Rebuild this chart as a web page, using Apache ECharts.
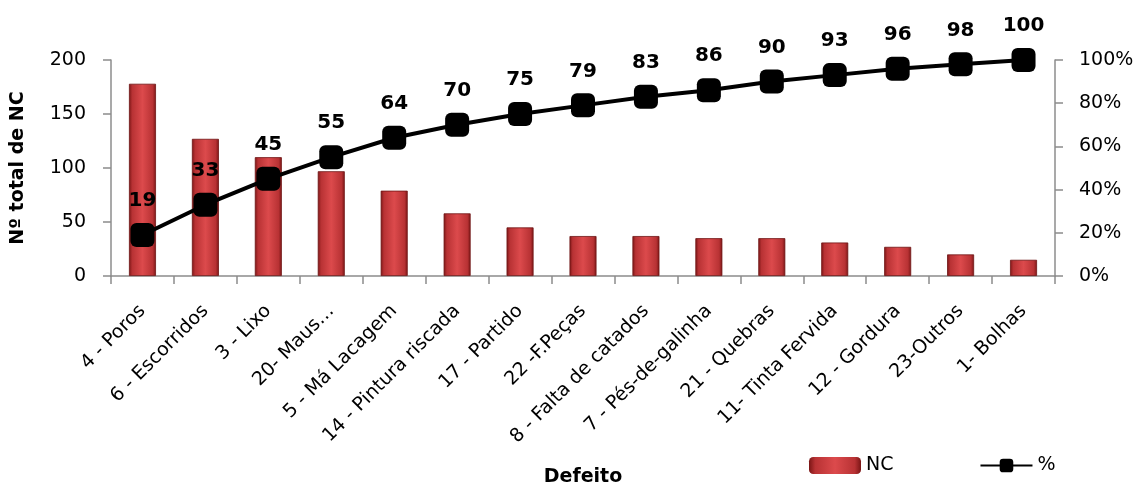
<!DOCTYPE html>
<html>
<head>
<meta charset="utf-8">
<script src="https://cdn.jsdelivr.net/npm/echarts@6/dist/echarts.min.js"></script>
<style>
  html, body { margin: 0; padding: 0; background: #fff; }
  #chart { width: 1142px; height: 488px; }
</style>
</head>
<body>
<div id="chart"></div>
<script>
// Defects (Pareto): count of non-conformities and cumulative percentage
const categories = [
  '4 - Poros', '6 - Escorridos', '3 - Lixo', '20- Maus…', '5 - Má Lacagem',
  '14 - Pintura riscada', '17 - Partido', '22 -F.Peças', '8 - Falta de catados',
  '7 - Pés-de-galinha', '21 - Quebras', '11- Tinta Fervida', '12 - Gordura',
  '23-Outros', '1- Bolhas'
];
const ncValues = [178, 127, 110, 97, 79, 58, 45, 37, 37, 35, 35, 31, 27, 20, 15];
const cumulativePct = [19, 33, 45, 55, 64, 70, 75, 79, 83, 86, 90, 93, 96, 98, 100];
const leftTicks = [0, 50, 100, 150, 200];
const rightTicks = [0, 20, 40, 60, 80, 100];

const FONT = '"DejaVu Sans", Verdana, sans-serif';
const axisGray = '#8c8c8c';

const chart = echarts.init(document.getElementById('chart'), null, { renderer: 'canvas' });

// bevelled red fill for the columns: dark edges, bright middle
const barFill = new echarts.graphic.LinearGradient(0, 0, 1, 0, [
  { offset: 0, color: '#7a1515' },
  { offset: 0.12, color: '#b83234' },
  { offset: 0.5, color: '#dc4a4c' },
  { offset: 0.88, color: '#b83234' },
  { offset: 1, color: '#7a1515' }
]);

chart.setOption({
  animation: false,
  textStyle: { fontFamily: FONT },
  grid: { left: 111, right: 87, top: 60, bottom: 211, containLabel: false },
  legend: {
    left: 804,
    top: 451,
    itemWidth: 52,
    itemHeight: 17,
    itemGap: 86,
    textStyle: { fontSize: 19, color: '#000', fontFamily: FONT },
    itemStyle: { borderWidth: 0 },
    data: ['NC', '%']
  },
  xAxis: {
    type: 'category',
    data: categories,
    name: 'Defeito',
    nameLocation: 'middle',
    nameGap: 192,
    nameTextStyle: { fontSize: 19, fontWeight: 'bold', color: '#000', fontFamily: FONT },
    axisLine: { lineStyle: { color: axisGray, width: 1.5 } },
    axisTick: { show: true, length: 8, lineStyle: { color: axisGray, width: 1.5 } },
    axisLabel: {
      rotate: 45,
      interval: 0,
      fontSize: 19,
      color: '#000',
      margin: 32
    }
  },
  yAxis: [
    {
      type: 'value',
      min: leftTicks[0],
      max: leftTicks[leftTicks.length - 1],
      interval: 50,
      name: 'Nº total de NC',
      nameLocation: 'middle',
      nameGap: 83,
      nameTextStyle: { fontSize: 19, fontWeight: 'bold', color: '#000', fontFamily: FONT },
      axisLine: { show: true, lineStyle: { color: axisGray, width: 1.5 } },
      axisTick: { show: true, length: 8, lineStyle: { color: axisGray, width: 1.5 } },
      splitLine: { show: false },
      axisLabel: { fontSize: 19, color: '#000', margin: 25 }
    },
    {
      type: 'value',
      min: rightTicks[0],
      max: rightTicks[rightTicks.length - 1],
      interval: 20,
      position: 'right',
      axisLine: { show: true, lineStyle: { color: axisGray, width: 1.5 } },
      axisTick: { show: true, length: 8, lineStyle: { color: axisGray, width: 1.5 } },
      splitLine: { show: false },
      axisLabel: { fontSize: 19, color: '#000', margin: 24, formatter: '{value}%' }
    }
  ],
  series: [
    {
      name: 'NC',
      type: 'bar',
      yAxisIndex: 0,
      data: ncValues,
      barWidth: 27,
      itemStyle: { color: barFill, borderColor: '#6e1414', borderWidth: 0.8 }
    },
    {
      name: '%',
      type: 'line',
      yAxisIndex: 1,
      data: cumulativePct,
      symbol: 'roundRect',
      symbolSize: 24,
      lineStyle: { color: '#000', width: 4 },
      itemStyle: { color: '#000', borderColor: '#000', borderWidth: 0 },
      label: {
        show: true,
        position: 'top',
        distance: 12,
        fontSize: 20,
        fontWeight: 'bold',
        color: '#000',
        fontFamily: FONT,
        textBorderWidth: 0,
        textBorderColor: 'transparent',
        textShadowBlur: 0
      }
    }
  ]
});
</script>
</body>
</html>
